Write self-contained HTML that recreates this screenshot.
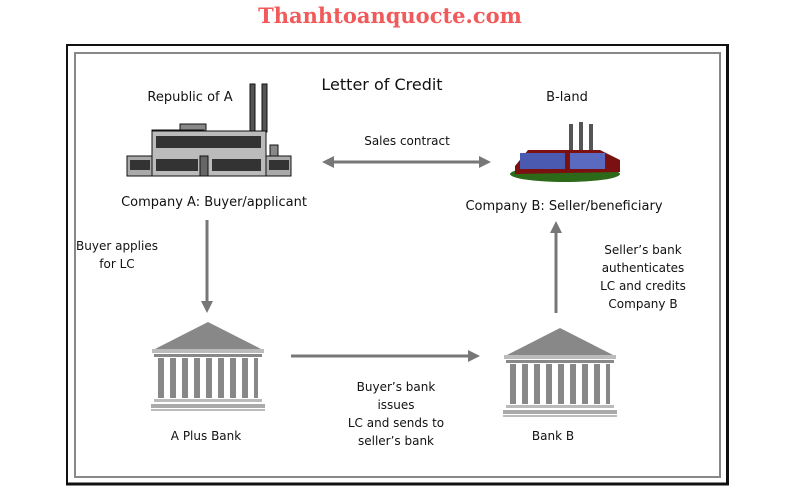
<!DOCTYPE html>
<html><head><meta charset="utf-8"><style>
html,body{margin:0;padding:0;background:#fff;width:800px;height:500px;overflow:hidden}
svg text{font-family:"DejaVu Sans","Liberation Sans",sans-serif;fill:#111}
</style></head><body>
<svg width="800" height="500" viewBox="0 0 800 500" xmlns="http://www.w3.org/2000/svg">
<text x="390" y="23" text-anchor="middle" style="font-family:'DejaVu Serif','Liberation Serif',serif;font-weight:bold;font-size:21px;fill:#f05a5a">Thanhtoanquocte.com</text>
<!-- frame -->
<rect x="67" y="45" width="660" height="439" fill="none" stroke="#111" stroke-width="2"/>
<line x1="727.5" y1="44" x2="727.5" y2="485" stroke="#111" stroke-width="3"/>
<line x1="66" y1="484" x2="729" y2="484" stroke="#111" stroke-width="3"/>
<rect x="75" y="53" width="645" height="424" fill="none" stroke="#888" stroke-width="2"/>
<text x="382" y="90" text-anchor="middle" font-size="16">Letter of Credit</text>
<text x="190" y="101" text-anchor="middle" font-size="13">Republic of A</text>
<text x="567" y="101" text-anchor="middle" font-size="13">B-land</text>
<!-- factory A -->
<g stroke="#111" stroke-width="1">
<rect x="250" y="84" width="5" height="48" fill="#555"/>
<rect x="262" y="84" width="5" height="48" fill="#555"/>
<rect x="180" y="124" width="26" height="7" fill="#888"/>
<rect x="152" y="130" width="52" height="6" fill="#888"/>
<rect x="152" y="131" width="114" height="45" fill="#bbb"/>
<rect x="127" y="156" width="25" height="20" fill="#aaa"/>
<rect x="266" y="156" width="25" height="20" fill="#aaa"/>
<rect x="270" y="145" width="8" height="11" fill="#888"/>
<rect x="200" y="156" width="8" height="20" fill="#666"/>
</g>
<g fill="#333">
<rect x="156" y="136" width="105" height="12"/>
<rect x="156" y="159" width="42" height="12"/>
<rect x="212" y="159" width="49" height="12"/>
<rect x="130" y="160" width="20" height="10"/>
<rect x="269" y="160" width="20" height="10"/>
</g>
<!-- factory B -->
<g>
<rect x="569" y="124" width="4" height="30" fill="#555"/>
<rect x="579" y="122" width="4" height="32" fill="#555"/>
<rect x="589" y="124" width="4" height="30" fill="#555"/>
<ellipse cx="565" cy="174" rx="55" ry="8" fill="#2c6a1a"/>
<polygon points="515,166 528,150 600,150 620,160 620,172 515,174" fill="#7a1010"/>
<rect x="520" y="153" width="45" height="16" fill="#4a5ab0"/>
<rect x="570" y="153" width="35" height="16" fill="#5a6ac0"/>
</g>
<text x="214" y="206" text-anchor="middle" font-size="13">Company A: Buyer/applicant</text>
<text x="564" y="210" text-anchor="middle" font-size="13">Company B: Seller/beneficiary</text>
<!-- sales contract arrow -->
<text x="407" y="145" text-anchor="middle" font-size="12">Sales contract</text>
<g stroke="#777" stroke-width="3" fill="#777">
<line x1="332" y1="162" x2="480" y2="162"/>
<line x1="207" y1="220" x2="207" y2="303"/>
<line x1="291" y1="356" x2="470" y2="356"/>
<line x1="556" y1="313" x2="556" y2="232"/>
</g>
<g fill="#777">
<polygon points="322,162 334,156 334,168"/>
<polygon points="491,162 479,156 479,168"/>
<polygon points="207,313 201,301 213,301"/>
<polygon points="480,356 468,350 468,362"/>
<polygon points="556,221 550,233 562,233"/>
</g>
<text font-size="12" text-anchor="middle"><tspan x="117" y="250">Buyer applies</tspan><tspan x="117" y="268">for LC</tspan></text>
<text font-size="12" text-anchor="middle"><tspan x="643" y="254">Seller’s bank</tspan><tspan x="643" y="272">authenticates</tspan><tspan x="643" y="290">LC and credits</tspan><tspan x="643" y="308">Company B</tspan></text>
<text font-size="12" text-anchor="middle"><tspan x="396" y="391">Buyer’s bank</tspan><tspan x="396" y="409">issues</tspan><tspan x="396" y="427">LC and sends to</tspan><tspan x="396" y="445">seller’s bank</tspan></text>
<!-- banks -->
<g id="bankA" fill="#888">
<polygon points="153,350 208,322 263,350"/>
<rect x="152" y="349" width="112" height="4" fill="#bbb"/>
<rect x="154" y="354" width="108" height="3"/>
<rect x="158" y="358" width="6" height="40"/><rect x="170" y="358" width="6" height="40"/><rect x="182" y="358" width="6" height="40"/><rect x="194" y="358" width="6" height="40"/><rect x="206" y="358" width="6" height="40"/><rect x="218" y="358" width="6" height="40"/><rect x="230" y="358" width="6" height="40"/><rect x="242" y="358" width="6" height="40"/><rect x="254" y="358" width="4" height="40"/>
<rect x="154" y="399" width="108" height="3" fill="#bbb"/>
<rect x="151" y="404" width="114" height="4" fill="#aaa"/>
<rect x="151" y="409" width="114" height="2" fill="#bbb"/>
</g>
<use href="#bankA" x="352" y="6"/>
<text x="206" y="440" text-anchor="middle" font-size="12">A Plus Bank</text>
<text x="553" y="440" text-anchor="middle" font-size="12">Bank B</text>
</svg>
</body></html>
